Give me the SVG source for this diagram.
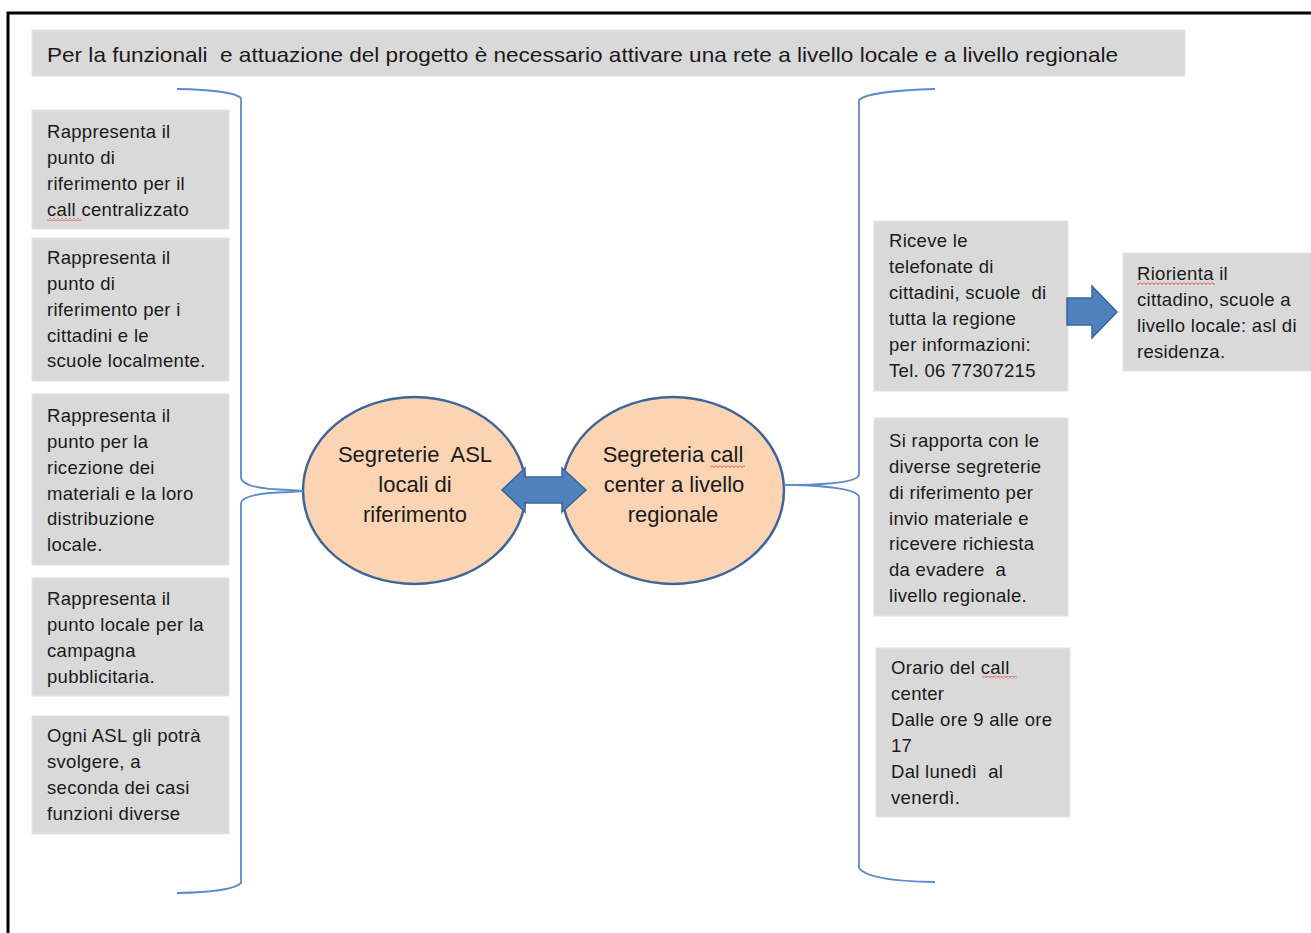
<svg xmlns="http://www.w3.org/2000/svg" width="1311" height="933" viewBox="0 0 1311 933">
<style>
.box{fill:#d9d9d9;stroke:#e4e4e4;stroke-width:1}
.t{font-family:"Liberation Sans",Arial,sans-serif;font-size:18.5px;fill:#1a1a1a;letter-spacing:0.3px;white-space:pre}
.et{font-family:"Liberation Sans",Arial,sans-serif;font-size:22px;fill:#1a1a1a;text-anchor:middle;white-space:pre}
.hd{font-family:"Liberation Sans",Arial,sans-serif;font-size:21px;fill:#1a1a1a;white-space:pre}
.ell{fill:#fbd4b4;stroke:#3d6698;stroke-width:2.5}
.brace{fill:none;stroke:#5b8bcb;stroke-width:1.8}
.arr{fill:#4f81bd;stroke:#3a6699;stroke-width:1.5}
</style>
<defs>
<pattern id="sq" width="4" height="3" patternUnits="userSpaceOnUse">
<path d="M0,0.5 L2,2.5 L4,0.5" fill="none" stroke="#e02020" stroke-width="0.8"/>
</pattern>
</defs>
<rect x="0" y="0" width="1311" height="933" fill="#ffffff"/>
<rect id="frame" x="8" y="13" width="1400" height="1000" fill="none" stroke="#000" stroke-width="3"/>

<g id="header">
<rect class="box" x="32" y="30" width="1153" height="46"/>
<text class="hd" x="47" y="62" textLength="1071" lengthAdjust="spacingAndGlyphs">Per la funzionali  e attuazione del progetto è necessario attivare una rete a livello locale e a livello regionale</text>
</g>

<g id="left1">
<rect class="box" x="32" y="110" width="197" height="119"/>
<text class="t"><tspan x="47" y="138">Rappresenta il</tspan><tspan x="47" y="164">punto di</tspan><tspan x="47" y="190">riferimento per il</tspan><tspan x="47" y="216">call centralizzato</tspan></text>
<rect x="47" y="218" width="35" height="3" fill="url(#sq)"/>
</g>

<g id="left2">
<rect class="box" x="32" y="238" width="197" height="143"/>
<text class="t"><tspan x="47" y="264">Rappresenta il</tspan><tspan x="47" y="290">punto di</tspan><tspan x="47" y="316">riferimento per i</tspan><tspan x="47" y="342">cittadini e le</tspan><tspan x="47" y="367">scuole localmente.</tspan></text>
</g>

<g id="left3">
<rect class="box" x="32" y="394" width="197" height="171"/>
<text class="t"><tspan x="47" y="422">Rappresenta il</tspan><tspan x="47" y="448">punto per la</tspan><tspan x="47" y="474">ricezione dei</tspan><tspan x="47" y="500">materiali e la loro</tspan><tspan x="47" y="525">distribuzione</tspan><tspan x="47" y="551">locale.</tspan></text>
</g>

<g id="left4">
<rect class="box" x="32" y="578" width="197" height="118"/>
<text class="t"><tspan x="47" y="605">Rappresenta il</tspan><tspan x="47" y="631">punto locale per la</tspan><tspan x="47" y="657">campagna</tspan><tspan x="47" y="683">pubblicitaria.</tspan></text>
</g>

<g id="left5">
<rect class="box" x="32" y="716" width="197" height="118"/>
<text class="t"><tspan x="47" y="742">Ogni ASL gli potrà</tspan><tspan x="47" y="768">svolgere, a</tspan><tspan x="47" y="794">seconda dei casi</tspan><tspan x="47" y="820">funzioni diverse</tspan></text>
</g>

<g id="asl">
<ellipse class="ell" cx="414.5" cy="490.5" rx="111.5" ry="93.5"/>
<text class="et"><tspan x="415" y="462">Segreterie  ASL</tspan><tspan x="415" y="492">locali di</tspan><tspan x="415" y="522">riferimento</tspan></text>
</g>

<g id="callcenter">
<ellipse class="ell" cx="673" cy="490.5" rx="111" ry="93.5"/>
<text class="et"><tspan x="673" y="462">Segreteria call</tspan><tspan x="674" y="492">center a livello</tspan><tspan x="673" y="522">regionale</tspan></text>
<rect x="710" y="465" width="35" height="3" fill="url(#sq)"/>
</g>

<g id="right1">
<rect class="box" x="874" y="221" width="194" height="170"/>
<text class="t"><tspan x="889" y="247">Riceve le</tspan><tspan x="889" y="273">telefonate di</tspan><tspan x="889" y="299">cittadini, scuole  di</tspan><tspan x="889" y="325">tutta la regione</tspan><tspan x="889" y="351">per informazioni:</tspan><tspan x="889" y="377">Tel. 06 77307215</tspan></text>
</g>

<g id="right2">
<rect class="box" x="1123" y="253" width="200" height="118"/>
<text class="t"><tspan x="1137" y="280">Riorienta il</tspan><tspan x="1137" y="306">cittadino, scuole a</tspan><tspan x="1137" y="332">livello locale: asl di</tspan><tspan x="1137" y="358">residenza.</tspan></text>
<rect x="1137" y="282" width="78" height="3" fill="url(#sq)"/>
</g>

<g id="right3">
<rect class="box" x="874" y="418" width="194" height="198"/>
<text class="t"><tspan x="889" y="447">Si rapporta con le</tspan><tspan x="889" y="473">diverse segreterie</tspan><tspan x="889" y="499">di riferimento per</tspan><tspan x="889" y="525">invio materiale e</tspan><tspan x="889" y="550">ricevere richiesta</tspan><tspan x="889" y="576">da evadere  a</tspan><tspan x="889" y="602">livello regionale.</tspan></text>
</g>

<g id="right4">
<rect class="box" x="876" y="648" width="194" height="169"/>
<text class="t"><tspan x="891" y="674">Orario del call</tspan><tspan x="891" y="700">center</tspan><tspan x="891" y="726">Dalle ore 9 alle ore</tspan><tspan x="891" y="752">17</tspan><tspan x="891" y="778">Dal lunedì  al</tspan><tspan x="891" y="804">venerdì.</tspan></text>
<rect x="982" y="676" width="35" height="3" fill="url(#sq)"/>
</g>

<g id="connectors">
<path class="brace" d="M177,89 Q232,90 241,98 L241,478 Q243,489 290,490 L303,491 M303,491 L290,492 Q243,493 241,503 L241,883 Q232,892 177,893"/>
<path class="brace" d="M935,89 Q868,91 859,100 L859,475 Q857,484 795,485 L784,485 M784,485 L795,485 Q857,487 859,497 L859,868 Q868,881 935,882"/>
<path class="arr" d="M502,490 L525,468 L525,477 L562,477 L562,468 L586,490 L562,512 L562,503 L525,503 L525,512 Z"/>
<path class="arr" d="M1067,298 L1092,298 L1092,286 L1117,312 L1092,338 L1092,325 L1067,325 Z"/>
</g>
</svg>
